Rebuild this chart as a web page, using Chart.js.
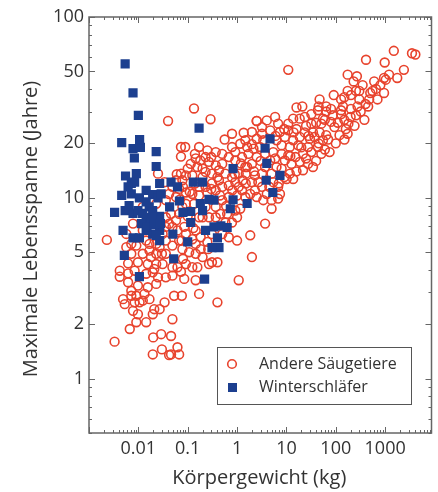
<!DOCTYPE html>
<html><head><meta charset="utf-8">
<script src="https://cdn.jsdelivr.net/npm/chart.js@4"></script>
<style>html,body{margin:0;padding:0;background:#fff}#wrap{width:438px;height:492px;position:relative}</style>
</head><body><div id="wrap"><canvas id="c"></canvas></div>
<script>
const xTicks = [0.01, 0.1, 1, 10, 100, 1000];
const yTicks = [1, 2, 5, 10, 20, 50, 100];
const seriesNames = ['Andere Säugetiere', 'Winterschläfer'];
const axisTitles = ['Körpergewicht (kg)', 'Maximale Lebensspanne (Jahre)'];

// [Körpergewicht kg, max. Lebensspanne Jahre]
const andereSaeugetiere = [
[1500,65],[3500,63],[4100,62],[410,58],[980,56],[2400,51],[10.9,51],
[1760,46],[950,46],[1030,45],[174,48],[268,47],[230,44],[600,44],[350,42],
[950,38],[554,39],[174,39],[256,39],[300,39],[203,37],[149,36],[91,37],[47,35],
[128,35],[300,35],[475,35],[700,35],[276,32],[453,32],[203,31],[128,30.5],[80,31],
[64,30],[43.5,30.5],[32,29],[23.5,28],[16,31.6],[21,32],[64,32],[45,32],
[55,27.4],[87,28.6],[128,29],[149,27],[256,28.6],[180,25.7],[80,26.3],[51,25.7],[32,25.7],
[18.6,27.4],[13.7,27.4],[10.9,25.7],[6.8,25.7],[5.9,28],[4,26.8],[2.5,26.6],[3.2,24.6],
[4.7,23.6],[7.4,23.1],[10.9,23.6],[16,24],[23.5,23],[34.5,23],[47,23],[94,24.6],[174,22.6],
[119,22.2],[64,22.2],[37,21.7],[30,21.2],[18.6,21.7],[13.7,20.8],[9.3,21.7],[6.3,20.8],
[8,19.5],[11.7,19.1],[17.3,19.5],[27.4,19.1],[43.5,19.1],[55,20.8],[75,17.9],[51,17.5],
[32,17.9],[21.7,17.5],[15.3,16.8],[10.9,17.2],[8,17.5],[5.4,17.9],[5.9,16.5],[9.3,16.1],
[12.7,15.4],[18.6,15.8],[27.4,15.4],[34.5,14.8],[21.7,14.2],[11.7,13.6],[13.7,12.7],[10.1,12.7],
[8,14.5],[6.3,14.8],[5,13.6],[3.2,22.6],[2.0,23.1],[2.5,21.2],[3.4,20.8],[2.9,19.1],[2.15,18.7],
[1.7,17.5],[2.5,16.8],[2.0,15.4],[1.6,14.8],[1.5,13.6],[2.3,13.3],[2.7,12.2],[2.0,12.2],[1.5,12],
[1.08,11.5],[2.3,11],[3.2,11.5],[4,10.5],[2.5,10.1],[3.4,9.7],[5,9.7],[6.8,9.9],[5,8.7],[3.7,7.2],
[1.36,22.9],[0.56,21],[0.25,18.3],[0.5,17.5],[0.79,19.1],[1.16,19.9],[0.92,17.9],[0.68,16.8],
[0.92,16.1],[1.26,16.8],[0.5,15.4],[0.37,15.1],[0.27,15.8],[0.18,16.1],[0.145,16.5],[0.115,15.4],
[0.157,14.8],[0.23,13.9],[0.31,13.6],[0.43,14.2],[0.58,13.6],[0.79,13],[1.08,13.6],[1.47,14.8],
[0.43,12.5],[0.31,12],[0.23,11.5],[0.17,11.5],[0.124,13.3],[0.092,13.3],[0.078,12.5],[0.058,12.5],
[0.067,11.2],[0.092,10.7],[0.124,10.5],[0.17,10.3],[0.25,10.7],[0.37,11],[0.5,11.5],[0.68,11.7],
[0.92,12.2],[1.26,11],[1.0,10.3],[0.68,10.1],[0.5,9.7],[0.37,8.9],[0.27,7.8],[0.37,7.8],[0.46,8.15],
[0.63,8.15],[0.92,8.5],[1.16,8.7],[1.0,7.8],[0.79,7.3],[0.58,7.3],[0.5,6.3],[0.68,6.05],[1.0,5.8],
[1.85,6.2],[2.0,4.7],[1.08,3.5],[0.4,2.64],[0.17,2.94],[0.145,3.5],[0.085,3.56],[0.124,4.13],
[0.157,4.13],[0.27,4.3],[0.31,4.4],[0.4,4.4],[0.2,4.7],[0.145,4.9],[0.183,5.2],[0.25,5.7],[0.183,6.05],
[0.145,5.56],[0.107,5.0],[0.078,5.2],[0.067,5.8],[0.049,5.44],[0.062,4.13],[0.053,2.87],[0.076,2.87],
[0.049,2.13],[0.046,1.72],[0.029,1.76],[0.02,1.69],[0.03,1.45],[0.062,1.49],[0.067,1.36],[0.046,1.36],
[0.042,1.35],[0.0196,1.36],[0.0144,2.05],[0.0196,2.27],[0.021,2.42],[0.034,2.64],[0.027,2.42],
[0.0123,2.7],[0.0168,2.75],[0.0091,2.87],[0.0072,2.87],[0.0049,2.75],[0.0053,2.58],[0.0078,2.37],
[0.0098,2.27],[0.0091,2.05],[0.0067,1.88],[0.0033,1.6],[0.0023,5.85],[0.0042,3.66],[0.0062,3.82],
[0.0042,3.95],[0.0062,4.34],[0.0098,4.4],[0.0072,4.9],[0.0091,5.44],[0.0123,4.9],[0.0168,5.56],
[0.0155,4.3],[0.023,4.3],[0.021,4.04],[0.031,4.3],[0.025,3.63],[0.036,3.63],[0.049,3.71],[0.049,4.13],
[0.036,4.9],[0.023,4.9],[0.027,5.33],[0.036,5.8],[0.031,6.31],[0.042,7.18],[0.058,7.5],[0.085,6.9],
[0.092,6.3],[0.145,6.6],[0.17,7.8],[0.134,9.26],[0.092,9.26],[0.058,10.1],[0.042,10.5],[0.036,7.8],
[0.0144,5.8],[0.0168,5.1],[0.023,3.34],[0.0098,3.27],[0.0133,2.94],[0.0072,3.06],[0.0062,3.41],
[0.0084,3.95],[0.0144,3.8],[0.0196,3.87],[0.0155,3.2],[0.0106,2.64],[0.0084,2.64],
[0.04,26.6],[0.134,31.2],[0.29,27.2],[0.073,19.1],[0.089,19.1],[0.073,16.9],[2.0,19.8],[2.5,26.6],
[0.025,13.6],[0.034,12.2],[0.049,11.5],[0.036,9.7],[0.023,9.26],[0.0123,8.9],[0.0123,6.6],[0.0078,7.2],
[0.046,8.15],[0.067,8.15],[0.062,6.6],[0.049,6.9],[0.078,8.9],[0.1,7.9],[0.124,5.9],[0.036,6.9],
[0.023,5.56],[0.018,4.7],[0.0057,6.31],[0.0057,5.33],[0.0072,5.56],[0.073,13.6],[0.1,14.5],[0.2,13],
[0.2,7.8],[0.23,8.9],[0.31,6.3],[0.092,4.3],[0.073,3.9],
[0.37,17.9],[0.17,19.1],[0.23,16.8],[0.79,22.6],[1.47,20.8],[1.6,19.1],[1.47,10.1],[1.85,10.5],
[3.7,17.5],[3.7,14.8],[4.7,16.1],[3.2,13.6],[5.4,12.2],[6.8,11.5],[7.4,10.5],
[110,26],[140,32],[200,28],[320,30],[400,33],[500,38],[650,40],[800,42],[1200,48],[380,27],
[240,25],[160,24],[60,27],[40,26],[25,25],[14,23],[9,24],[6,22],[100,20],[150,21],[70,21],
[45,20],[28,22],[20,19],[12,17],[25,16.5],[40,16],[60,18.5],[16,14],[9,13],[7,12],[4.5,11.5],
[3,16],[2.2,14],[1.3,12.5],[1.2,15.5],
[0.6,9],[0.8,11],[0.45,10.3],[0.3,11.2],[0.2,14.5],[0.14,12],[0.11,10.8],[0.08,11.5],[0.06,13.5],
[0.3,16.8],[0.14,17.5],[0.9,13.5],[0.4,13],[0.07,9.8],[0.13,6.8],[0.26,5.2],[0.075,5.8],[0.08,4.6],[0.03,4.9]
];

const winterschlaefer = [
[0.0054,55],[0.0078,38],[0.010,28.6],[0.17,24.3],[0.0046,20.2],[0.0078,18.7],[0.011,19],[0.0106,21],
[0.0083,16.6],[0.023,18],[0.023,14.9],[0.0055,13.2],[0.0091,13.6],[0.027,12],[0.046,12.2],[0.062,11.5],
[0.13,12.2],[0.2,12.2],[0.83,14.5],[3.7,18.8],[4.66,21.2],[4.0,15.5],[3.9,12.5],[7.4,13.3],[5.3,10.7],
[1.6,9.3],[0.83,9.75],[0.73,8.7],[0.34,9.7],[0.27,9.8],[0.18,9.3],[0.2,8.5],[0.115,8.4],[0.08,8.3],
[0.068,9.6],[0.043,8.9],[0.115,7.3],[0.23,6.6],[0.34,6.9],[0.47,7.0],[0.63,6.85],[0.4,6.0],[0.43,5.3],
[0.31,5.3],[0.1,5.7],[0.05,6.3],[0.052,4.6],[0.22,3.55],[0.0105,3.66],[0.0052,4.8],[0.0049,6.6],
[0.0078,6.0],[0.0105,6.0],[0.0144,6.6],[0.0195,6.3],[0.027,6.6],[0.027,5.8],[0.0033,8.3],[0.0054,8.5],
[0.0078,8.2],[0.0166,8.9],[0.0144,7.6],[0.023,7.5],[0.027,7.9],[0.0195,8.5],[0.0046,10.3],[0.0072,10.5],
[0.0105,10],[0.0144,11],[0.0195,10.4],[0.025,10],[0.029,10.5],[0.0072,12],[0.0084,12.2],[0.0062,11.5],
[0.0144,9.5],[0.0185,7.8],[0.0115,7.2],[0.015,6.9],[0.021,7.1],[0.028,7.2],[0.023,6.2],[0.0065,9.05],
[0.0098,8.5],[0.0122,8.2]
];

const RED = '#e8432d', BLUE = '#1c3f8f', AXIS = '#666', TXT = '#333';
const FONT = '"Open Sans", sans-serif';
const toPts = a => a.map(([x, y]) => ({x, y}));

const decor = {
  id: 'decor',
  afterDraw(chart) {
    const {ctx, chartArea: a, scales: {x, y}} = chart;
    ctx.save();
    ctx.strokeStyle = AXIS;
    ctx.lineWidth = 1;
    ctx.beginPath();
    for (let e = -3; e <= 3; e++) for (let m = 1; m <= 9; m++) {
      const v = m * Math.pow(10, e);
      if (v < x.min || v > x.max) continue;
      const px = Math.round(x.getPixelForValue(v)) + 0.5;
      const len = m === 1 ? 6 : 3;
      ctx.moveTo(px, a.bottom); ctx.lineTo(px, a.bottom - len);
      ctx.moveTo(px, a.top); ctx.lineTo(px, a.top + len);
    }
    for (let e = -1; e <= 2; e++) for (let m = 1; m <= 9; m++) {
      const v = m * Math.pow(10, e);
      if (v < y.min - 1e-9 || v > y.max + 1e-9) continue;
      const py = Math.round(y.getPixelForValue(v)) + 0.5;
      const major = yTicks.some(t => Math.abs(t - v) < 1e-9);
      const len = major ? 6 : 3;
      ctx.moveTo(a.left, py); ctx.lineTo(a.left + len, py);
      ctx.moveTo(a.right, py); ctx.lineTo(a.right - len, py);
    }
    ctx.stroke();
    ctx.lineWidth = 1.5;
    ctx.strokeRect(a.left, a.top, a.right - a.left, a.bottom - a.top);

    // axis titles
    ctx.fillStyle = TXT;
    ctx.font = '20px ' + FONT;
    ctx.textAlign = 'center';
    ctx.textBaseline = 'middle';
    ctx.fillText(axisTitles[0], (a.left + a.right) / 2 - 1, 478);
    ctx.save();
    ctx.translate(31, 229);
    ctx.rotate(-Math.PI / 2);
    ctx.fillText(axisTitles[1], 0, 0);
    ctx.restore();

    // legend
    const bx = 217, by = 347, bw = 194, bh = 57;
    ctx.fillStyle = '#fff';
    ctx.fillRect(bx, by, bw, bh);
    ctx.strokeStyle = '#555';
    ctx.lineWidth = 1;
    ctx.strokeRect(bx + 0.5, by + 0.5, bw, bh);
    ctx.strokeStyle = RED; ctx.lineWidth = 1.6;
    ctx.beginPath(); ctx.arc(232, 364, 4.3, 0, Math.PI * 2); ctx.stroke();
    ctx.fillStyle = BLUE;
    ctx.fillRect(228, 383, 9, 9);
    ctx.fillStyle = TXT;
    ctx.font = '16px ' + FONT;
    ctx.textAlign = 'left';
    ctx.fillText(seriesNames[0], 259, 364);
    ctx.fillText(seriesNames[1], 259, 387);
    ctx.restore();
  }
};

new Chart(document.getElementById('c'), {
  type: 'scatter',
  data: {
    datasets: [
      { label: seriesNames[1], data: toPts(winterschlaefer), order: 0,
        pointStyle: 'rect', pointRadius: 6.5, backgroundColor: BLUE, borderColor: BLUE, borderWidth: 0 },
      { label: seriesNames[0], data: toPts(andereSaeugetiere), order: 1,
        pointStyle: 'circle', pointRadius: 4.4, backgroundColor: 'rgba(0,0,0,0)', borderColor: RED, borderWidth: 1.6 }
    ]
  },
  options: {
    responsive: true, maintainAspectRatio: false, animation: false,
    layout: { padding: { top: 17, right: 2, left: 0, bottom: 0 } },
    plugins: { legend: { display: false }, tooltip: { enabled: false } },
    scales: {
      x: {
        type: 'logarithmic', min: 0.001, max: 8700,
        grid: { display: false, drawTicks: false }, border: { display: false },
        afterBuildTicks: s => { s.ticks = xTicks.map(v => ({ value: v })); },
        afterFit: s => { s.height = 59; },
        ticks: { autoSkip: false, maxRotation: 0, padding: 5, color: TXT,
          font: { family: FONT, size: 18 }, callback: v => String(v) }
      },
      y: {
        type: 'logarithmic', min: 0.5, max: 100,
        grid: { display: false, drawTicks: false }, border: { display: false },
        afterBuildTicks: s => { s.ticks = yTicks.map(v => ({ value: v })); },
        afterFit: s => { s.width = 89; },
        ticks: { autoSkip: false, padding: 5, color: TXT,
          font: { family: FONT, size: 18 }, callback: v => String(v) }
      }
    }
  },
  plugins: [decor]
});
</script></body></html>
